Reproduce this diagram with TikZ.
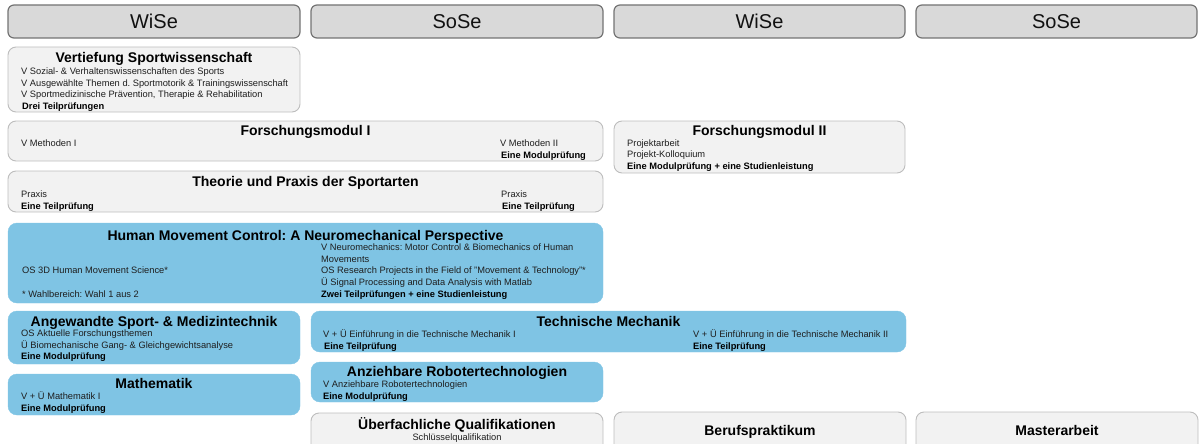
\documentclass[tikz,border=0pt]{standalone}
\usepackage{fontspec}
\setmainfont{Liberation Sans}
\frenchspacing
\definecolor{hdrfill}{HTML}{D9D9D9}
\definecolor{hdrline}{HTML}{737373}
\definecolor{lfill}{HTML}{F2F2F2}
\definecolor{lline}{HTML}{BDBDBD}
\definecolor{bfill}{HTML}{7FC4E4}
\definecolor{smtext}{HTML}{1E1E1E}
\definecolor{hdrtext}{HTML}{111111}
\begin{document}
\begin{tikzpicture}[x=1pt,y=-1pt,
  hdr/.style={draw=hdrline, line width=1.2pt, fill=hdrfill, rounded corners=6pt, inner sep=0pt},
  lbox/.style={draw=lline, line width=0.9pt, fill=lfill, rounded corners=8pt, inner sep=0pt},
  bbox/.style={draw=bfill, fill=bfill, rounded corners=9pt, inner sep=0pt},
  sm/.style={anchor=base west, inner sep=0pt, font=\fontsize{9.3}{11}\selectfont, text=smtext},
  smb/.style={anchor=base west, inner sep=0pt, font=\fontsize{9.3}{11}\selectfont\bfseries, text=black},
  ttl/.style={anchor=base, inner sep=0pt, font=\fontsize{14}{16}\selectfont\bfseries, text=black},
  hdrt/.style={anchor=base, inner sep=0pt, font=\fontsize{20}{24}\selectfont, text=hdrtext}]
\useasboundingbox (0,0) rectangle (1202,444);
\clip (0,0) rectangle (1202,444);
% headers
\node[hdr, minimum width=292pt, minimum height=33pt] (h1) at (154,21.5) {};
\node[hdr, minimum width=292pt, minimum height=33pt] (h2) at (457,21.5) {};
\node[hdr, minimum width=291pt, minimum height=33pt] (h3) at (759.5,21.5) {};
\node[hdr, minimum width=281pt, minimum height=33pt] (h4) at (1056.5,21.5) {};
\node[hdrt] (h1t) at (154,29) {WiSe};
\node[hdrt] (h2t) at (457,29) {SoSe};
\node[hdrt] (h3t) at (759.5,29) {WiSe};
\node[hdrt] (h4t) at (1056.5,29) {SoSe};
% Vertiefung
\node[lbox, minimum width=292pt, minimum height=65pt] (vert) at (154,79.5) {};
\node[ttl] (vertt) at (154,63) {Vertiefung Sportwissenschaft};
\node[sm] (v1) at (21,74.3) {V Sozial- \& Verhaltenswissenschaften des Sports};
\node[sm] (v2) at (21,86) {V Ausgewählte Themen d. Sportmotorik \& Trainingswissenschaft};
\node[sm] (v3) at (21,97.6) {V Sportmedizinische Prävention, Therapie \& Rehabilitation};
\node[smb] (v4) at (22,109.3) {Drei Teilprüfungen};
% Forschungsmodul I
\node[lbox, minimum width=595pt, minimum height=40pt] (fm1) at (305.5,141) {};
\node[ttl] (fm1t) at (305.5,135) {Forschungsmodul I};
\node[sm] (fm1a) at (21,146.3) {V Methoden I};
\node[sm] (fm1b) at (500,146.3) {V Methoden II};
\node[smb] (fm1c) at (501,158) {Eine Modulprüfung};
% Forschungsmodul II
\node[lbox, minimum width=291pt, minimum height=52pt] (fm2) at (759.5,147) {};
\node[ttl] (fm2t) at (759.5,135) {Forschungsmodul II};
\node[sm] (fm2a) at (627,146) {Projektarbeit};
\node[sm] (fm2b) at (627,157.5) {Projekt-Kolloquium};
\node[smb] (fm2c) at (627,169) {Eine Modulprüfung + eine Studienleistung};
% Theorie und Praxis
\node[lbox, minimum width=595pt, minimum height=41pt] (tp) at (305.5,191.5) {};
\node[ttl] (tpt) at (305.5,186) {Theorie und Praxis der Sportarten};
\node[sm] (tpa) at (21,197.3) {Praxis};
\node[smb] (tpb) at (21,209) {Eine Teilprüfung};
\node[sm] (tpc) at (501,197.3) {Praxis};
\node[smb] (tpd) at (502,209) {Eine Teilprüfung};
% Human Movement Control
\node[bbox, minimum width=595pt, minimum height=80pt] (hmc) at (305.5,263) {};
\node[ttl] (hmct) at (305.5,240) {Human Movement Control: A Neuromechanical Perspective};
\node[sm] (hmc1) at (321,250.3) {V Neuromechanics: Motor Control \& Biomechanics of Human};
\node[sm] (hmc2) at (321,262) {Movements};
\node[sm] (hmc3) at (321,273.6) {OS Research Projects in the Field of "Movement \& Technology"*};
\node[sm] (hmc4) at (321,285.3) {Ü Signal Processing and Data Analysis with Matlab};
\node[smb] (hmc5) at (321,297) {Zwei Teilprüfungen + eine Studienleistung};
\node[sm] (hmc6) at (22,273.6) {OS 3D Human Movement Science*};
\node[sm] (hmc7) at (22,297) {* Wahlbereich: Wahl 1 aus 2};
% Angewandte
\node[bbox, minimum width=292pt, minimum height=53pt] (ang) at (154,337.5) {};
\node[ttl] (angt) at (154,326) {Angewandte Sport- \& Medizintechnik};
\node[sm] (ang1) at (21,336.3) {OS Aktuelle Forschungsthemen};
\node[sm] (ang2) at (21,348) {Ü Biomechanische Gang- \& Gleichgewichtsanalyse};
\node[smb] (ang3) at (21,359.7) {Eine Modulprüfung};
% Technische Mechanik
\node[bbox, minimum width=595pt, minimum height=41pt] (tm) at (608.5,331.5) {};
\node[ttl] (tmt) at (608.5,326) {Technische Mechanik};
\node[sm] (tm1) at (323,337.3) {V + Ü Einführung in die Technische Mechanik I};
\node[smb] (tm2) at (324,349) {Eine Teilprüfung};
\node[sm] (tm3) at (693,337.3) {V + Ü Einführung in die Technische Mechanik II};
\node[smb] (tm4) at (693,349) {Eine Teilprüfung};
% Mathematik
\node[bbox, minimum width=292pt, minimum height=41pt] (math) at (154,394.5) {};
\node[ttl] (matht) at (154,388) {Mathematik};
\node[sm] (math1) at (21,399.3) {V + Ü Mathematik I};
\node[smb] (math2) at (21,411) {Eine Modulprüfung};
% Anziehbare
\node[bbox, minimum width=292pt, minimum height=40pt] (anz) at (457,382) {};
\node[ttl] (anzt) at (457,376) {Anziehbare Robotertechnologien};
\node[sm] (anz1) at (323,387.3) {V Anziehbare Robotertechnologien};
\node[smb] (anz2) at (323,399) {Eine Modulprüfung};
% bottom row
\node[lbox, minimum width=292pt, minimum height=40pt] (ueb) at (457,433) {};
\node[ttl] (uebt) at (457,429) {Überfachliche Qualifikationen};
\node[sm, anchor=base] (ueb1) at (457,440) {Schlüsselqualifikation};
\node[lbox, minimum width=292pt, minimum height=40pt] (beruf) at (760,432) {};
\node[ttl] (beruft) at (760,435) {Berufspraktikum};
\node[lbox, minimum width=282pt, minimum height=40pt] (master) at (1057,432) {};
\node[ttl] (mastert) at (1057,435) {Masterarbeit};
\end{tikzpicture}
\end{document}
